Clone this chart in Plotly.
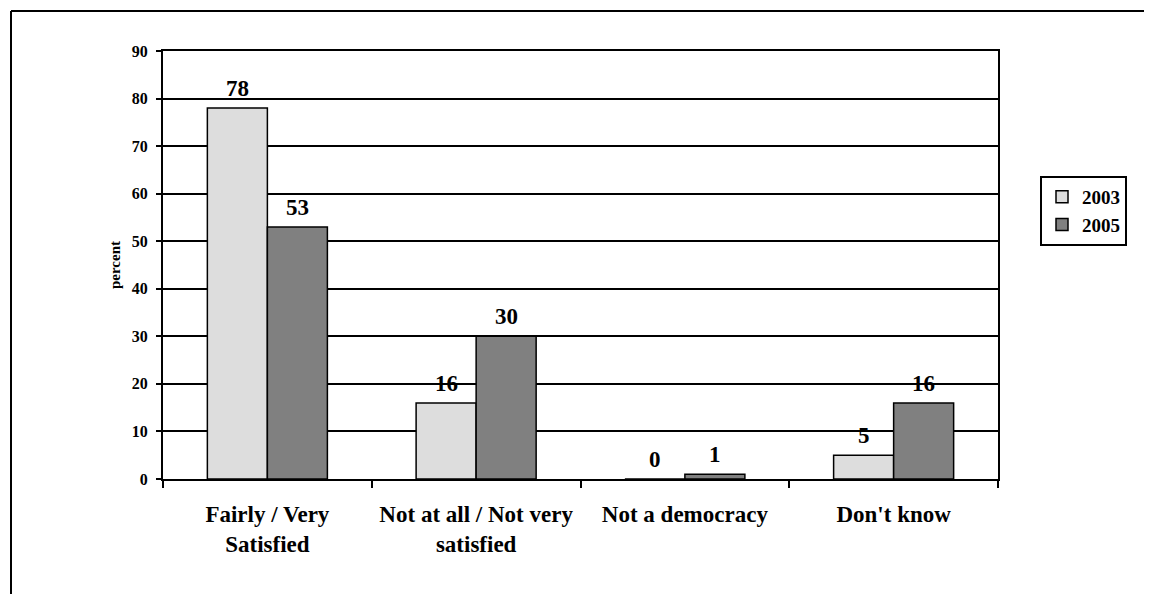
import plotly.graph_objects as go

categories = ["Fairly / Very<br>Satisfied", "Not at all / Not very<br>satisfied", "Not a democracy", "Don't know"]
values_2003 = [78, 16, 0, 5]
values_2005 = [53, 30, 1, 16]
y_ticks = [0, 10, 20, 30, 40, 50, 60, 70, 80, 90]
series = [("2003", values_2003, "#DDDDDD"), ("2005", values_2005, "#808080")]

FONT = "Liberation Serif"
OFF = 8  # browser body margin
W, H = 1152 - OFF, 594 - OFF
L, R, T, B = 163 - OFF, 998 - OFF, 51 - OFF, 479 - OFF
BARGAP = 0.425

fig = go.Figure()
for name, vals, col in series:
    fig.add_trace(go.Bar(
        x=categories, y=vals, name=f"<b>{name}</b>",
        marker=dict(color=col, line=dict(color="black", width=1.5)),
        cliponaxis=False,
    ))

def px(x):
    return (x - L) / (R - L)

def py(y):
    return (B - y) / (B - T)

# data labels via annotations, positioned by the axes from data values
cat_w = (R - L) / len(categories)
bar_w = cat_w * (1 - BARGAP) / len(series)
annotations = []
for i, (name, vals, col) in enumerate(series):
    shift = (i - (len(series) - 1) / 2) * bar_w
    for c, v in zip(categories, vals):
        annotations.append(dict(
            x=c, y=v, xref="x", yref="y", text=f"<b>{v}</b>", showarrow=False,
            xshift=shift, yanchor="bottom", yshift=5,
            font=dict(family=FONT, size=23, color="black"),
        ))

fig.update_layout(
    width=W, height=H,
    margin=dict(l=L, r=W - R, t=T, b=H - B, pad=0),
    paper_bgcolor="white", plot_bgcolor="white",
    barmode="group", bargap=BARGAP, bargroupgap=0,
    font=dict(family=FONT, color="black"),
    showlegend=True,
    annotations=annotations,
    legend=dict(
        x=px(1040 - OFF), y=py(176 - OFF), xanchor="left", yanchor="top",
        bordercolor="black", borderwidth=2, bgcolor="white",
        font=dict(family=FONT, size=19, color="black"),
        tracegroupgap=0, itemwidth=30,
    ),
    xaxis=dict(
        showline=True, linecolor="black", linewidth=2, mirror=True,
        ticks="outside", ticklen=7, tickwidth=1.5, tickcolor="black",
        tickson="boundaries", showgrid=False, ticklabelstandoff=13,
        tickfont=dict(family=FONT, size=23, color="black"),
        tickvals=categories, ticktext=[f"<b>{c}</b>" for c in categories],
    ),
    yaxis=dict(
        range=[0, 90], tickvals=y_ticks,
        ticktext=[f"<b>{v}</b>" for v in y_ticks],
        showline=True, linecolor="black", linewidth=2, mirror=True,
        ticks="outside", ticklen=5, tickwidth=1.5, tickcolor="black",
        ticklabelstandoff=5,
        showgrid=True, gridcolor="black", gridwidth=1.5, zeroline=False,
        tickfont=dict(family=FONT, size=16, color="black"),
        title=dict(text="<b>percent</b>", font=dict(family=FONT, size=15, color="black"), standoff=8),
    ),
    shapes=[
        dict(type="line", xref="paper", yref="paper", x0=px(11 - OFF), x1=px(11 - OFF),
             y0=py(11 - OFF), y1=py(620), line=dict(color="black", width=2)),
        dict(type="line", xref="paper", yref="paper", x0=px(11 - OFF), x1=px(1170),
             y0=py(11 - OFF), y1=py(11 - OFF), line=dict(color="black", width=2)),
    ],
)

fig.write_html("out.html")
